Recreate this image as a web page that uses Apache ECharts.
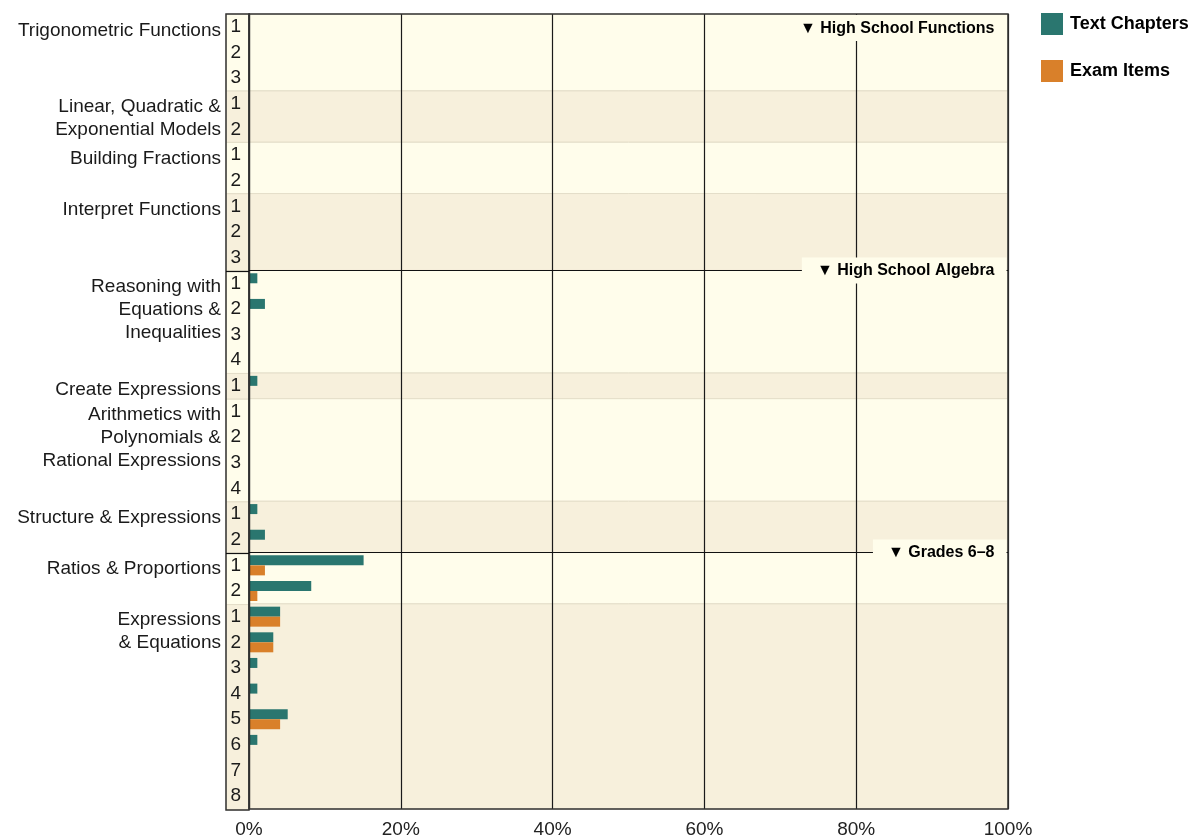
<!DOCTYPE html>
<html>
<head>
<meta charset="utf-8">
<script src="https://cdn.jsdelivr.net/npm/echarts@6/dist/echarts.min.js"></script>
<style>
html, body { margin: 0; padding: 0; background: #fff; }
#chart { width: 1191px; height: 839px; }
</style>
</head>
<body>
<div id="chart"></div>
<script>
// groups of rows, top to bottom
const groupNames = [
  'Trigonometric Functions',
  'Linear, Quadratic &\nExponential Models',
  'Building Fractions',
  'Interpret Functions',
  'Reasoning with\nEquations &\nInequalities',
  'Create Expressions',
  'Arithmetics with\nPolynomials &\nRational Expressions',
  'Structure & Expressions',
  'Ratios & Proportions',
  'Expressions\n& Equations'
]
const groupSizes = [3, 2, 2, 3, 4, 1, 4, 2, 2, 8]

const sectionNames = ['High School Functions', 'High School Algebra', 'Grades 6–8']
const sectionFirstGroup = [0, 4, 8]

// percent of text chapters / exam items per row
const textChapters = [
  0, 0, 0,
  0, 0,
  0, 0,
  0, 0, 0,
  1.1, 2.1, 0, 0,
  1.1,
  0, 0, 0, 0,
  1.1, 2.1,
  15.1, 8.2,
  4.1, 3.2, 1.1, 1.1, 5.1, 1.1, 0, 0
]
const examItems = [
  0, 0, 0,
  0, 0,
  0, 0,
  0, 0, 0,
  0, 0, 0, 0,
  0,
  0, 0, 0, 0,
  0, 0,
  2.1, 1.1,
  4.1, 3.2, 0, 0, 4.1, 0, 0, 0
]

const xTicks = [0, 20, 40, 60, 80, 100]

const LIGHT = '#FFFDEB'
const DARK = '#F7F0DC'
const TEAL = '#2A766F'
const ORANGE = '#D9802A'
const FONT = 'Liberation Sans'

// row ids and numbers
const rowIds = []
const rowNums = []
const groupStart = []
let n = 0
groupSizes.forEach((size, g) => {
  groupStart.push(n)
  for (let i = 1; i <= size; i++) {
    rowIds.push(g + '-' + i)
    rowNums.push(String(i))
  }
  n += size
})
const rowCount = n

const bands = groupSizes.map((size, g) => [
  { yAxis: groupStart[g], itemStyle: { color: g % 2 ? DARK : LIGHT } },
  { yAxis: groupStart[g] + size }
])
const dividers = sectionFirstGroup.slice(1).map(g => ({ yAxis: groupStart[g] }))

const groupLabels = groupNames.map((name, g) => ({
  name,
  value: [0, groupStart[g] + 0.5],
  label: {
    show: true,
    position: 'left',
    distance: 28,
    align: 'right',
    verticalAlign: 'top',
    offset: [0, -8],
    lineHeight: 23,
    fontFamily: FONT,
    fontSize: 19,
    color: '#1a1a1a',
    formatter: '{b}'
  }
}))

const sectionLabels = sectionNames.map((name, s) => {
  const start = groupStart[sectionFirstGroup[s]]
  return {
    name: '▼ ' + name,
    value: [100, start === 0 ? 0.55 : start],
    label: {
      show: true,
      position: 'left',
      distance: 1.5,
      fontFamily: FONT,
      fontSize: 16,
      fontWeight: 'bold',
      color: '#000',
      backgroundColor: LIGHT,
      padding: [5, 12, 5, 15],
      formatter: '{b}'
    }
  }
})

const chart = echarts.init(document.getElementById('chart'))

const option = {
  animation: false,
  legend: {
    data: ['Text Chapters', 'Exam Items'],
    orient: 'vertical',
    left: 1041,
    top: 13,
    padding: 0,
    itemWidth: 22,
    itemHeight: 22,
    itemGap: 25,
    icon: 'rect',
    textStyle: { fontFamily: FONT, fontSize: 18, fontWeight: 'bold', color: '#000', padding: [0, 0, 0, 2] }
  },
  grid: [
    { left: 249, right: 183, top: 14, bottom: 29, show: true, borderColor: '#333', borderWidth: 1.5, z: 4 },
    { left: 226, width: 23, top: 14, bottom: 29, show: true, borderColor: '#333', borderWidth: 1.5, z: 4 }
  ],
  xAxis: [
    {
      type: 'value',
      gridIndex: 0,
      min: xTicks[0],
      max: xTicks[xTicks.length - 1],
      interval: 20,
      z: 3,
      axisLine: { show: false },
      axisTick: { show: false },
      axisLabel: { formatter: '{value}%', fontFamily: FONT, fontSize: 19, color: '#222', margin: 11 },
      splitLine: { show: true, lineStyle: { color: '#1a1a1a', width: 1.2 } }
    },
    { type: 'value', gridIndex: 1, min: 0, max: 1, show: false }
  ],
  yAxis: [
    {
      type: 'category',
      gridIndex: 0,
      data: rowIds,
      inverse: true,
      z: 3,
      axisLine: { show: true, lineStyle: { color: '#111', width: 1.2 } },
      axisTick: { show: false },
      axisLabel: {
        fontFamily: FONT,
        fontSize: 19,
        color: '#1a1a1a',
        margin: 8,
        formatter: (v, i) => rowNums[i]
      }
    },
    { type: 'value', gridIndex: 0, min: 0, max: rowCount, inverse: true, show: false },
    { type: 'value', gridIndex: 1, min: 0, max: rowCount, inverse: true, show: false }
  ],
  series: [
    {
      name: 'Text Chapters',
      type: 'bar',
      xAxisIndex: 0,
      yAxisIndex: 0,
      barWidth: 10,
      barGap: '0%',
      itemStyle: { color: TEAL },
      data: textChapters
    },
    {
      name: 'Exam Items',
      type: 'bar',
      xAxisIndex: 0,
      yAxisIndex: 0,
      barWidth: 10,
      barGap: '0%',
      itemStyle: { color: ORANGE },
      data: examItems
    },
    {
      name: 'labels',
      type: 'scatter',
      xAxisIndex: 0,
      yAxisIndex: 1,
      symbolSize: 0,
      silent: true,
      z: 6,
      itemStyle: { opacity: 1 },
      data: groupLabels.concat(sectionLabels),
      markArea: {
        silent: true,
        itemStyle: { borderColor: '#E4DEC9', borderWidth: 1 },
        label: { show: false },
        data: bands
      },
      markLine: {
        silent: true,
        symbol: 'none',
        label: { show: false },
        lineStyle: { color: '#111', width: 1.2, type: 'solid' },
        data: dividers
      }
    },
    {
      name: 'numbers',
      type: 'scatter',
      xAxisIndex: 1,
      yAxisIndex: 2,
      symbolSize: 0,
      silent: true,
      data: [],
      markArea: {
        silent: true,
        itemStyle: { borderColor: '#E4DEC9', borderWidth: 1 },
        label: { show: false },
        data: bands
      },
      markLine: {
        silent: true,
        symbol: 'none',
        label: { show: false },
        lineStyle: { color: '#111', width: 1.2, type: 'solid' },
        data: dividers
      }
    }
  ]
}

chart.setOption(option)
window.addEventListener('resize', () => chart.resize())
</script>
</body>
</html>
